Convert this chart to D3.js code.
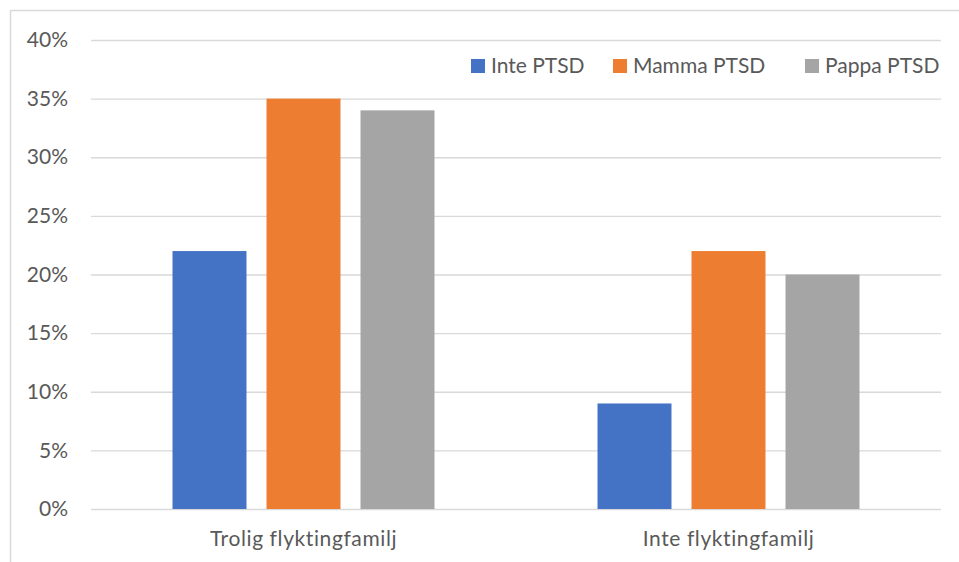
<!DOCTYPE html>
<html><head><meta charset="utf-8">
<script src="https://cdn.jsdelivr.net/npm/d3@7"></script>
<style>body{margin:0;background:#fff;} text{font-family:"Lato","Open Sans",sans-serif;fill:#595959;}</style>
</head><body><svg id="c" width="959" height="562"></svg>
<script>
const categories = ["Trolig flyktingfamilj", "Inte flyktingfamilj"];
const seriesNames = ["Inte PTSD", "Mamma PTSD", "Pappa PTSD"];
const inteP = [0.22, 0.09];
const mammaP = [0.35, 0.22];
const pappaP = [0.34, 0.20];
const seriesValues = [inteP, mammaP, pappaP];
const colors = ["#4472C4", "#ED7D31", "#A5A5A5"];
const yTicks = [0, 0.05, 0.10, 0.15, 0.20, 0.25, 0.30, 0.35, 0.40];
const FS = "21px";

const svg = d3.select("#c");
svg.append("rect").attr("x",10.5).attr("y",10.5).attr("width",960).attr("height",560)
  .attr("fill","none").attr("stroke","#d9d9d9").attr("stroke-width",1.5);

const mL = 91, mR = 941, mT = 40, mB = 509;
const y = d3.scaleLinear().domain([0,0.4]).range([mB, mT]);
const x0 = d3.scaleBand().domain(categories).range([mL, mR]).paddingInner(0).paddingOuter(0);
const x1 = d3.scaleBand().domain(seriesNames).range([0, x0.bandwidth()]).paddingInner(0.213).paddingOuter(0.867);

const yAxis = d3.axisLeft(y).tickValues(yTicks).tickSize(-(mR-mL)).tickFormat(d3.format(".0%"));
const ga = svg.append("g").attr("transform",`translate(${mL},0)`).call(yAxis);
ga.select(".domain").remove();
ga.selectAll(".tick line").attr("stroke","#d9d9d9").attr("stroke-width",1.3);
ga.selectAll(".tick text").attr("x",-23).style("font-size",FS).attr("fill","#595959");

const g = svg.append("g");
categories.forEach((c, i) => {
  seriesNames.forEach((s, j) => {
    const v = seriesValues[j][i];
    g.append("rect")
      .attr("x", x0(c) + x1(s))
      .attr("y", y(v))
      .attr("width", x1.bandwidth())
      .attr("height", y(0) - y(v))
      .attr("fill", colors[j]);
  });
});

const xAxis = d3.axisBottom(x0).tickSize(0).tickPadding(22);
const gx = svg.append("g").attr("transform",`translate(0,${mB})`).call(xAxis);
gx.select(".domain").remove();
gx.selectAll("text").style("font-size",FS).style("letter-spacing","0.6px").attr("fill","#595959");

const legendX = [471, 613, 805];
const leg = svg.append("g");
seriesNames.forEach((s, j) => {
  leg.append("rect").attr("x", legendX[j]).attr("y", 59).attr("width", 14).attr("height", 14).attr("fill", colors[j]);
  leg.append("text").attr("x", legendX[j] + 20).attr("y", 66).attr("dy","0.35em")
    .style("font-size",FS).text(s);
});
</script></body></html>
